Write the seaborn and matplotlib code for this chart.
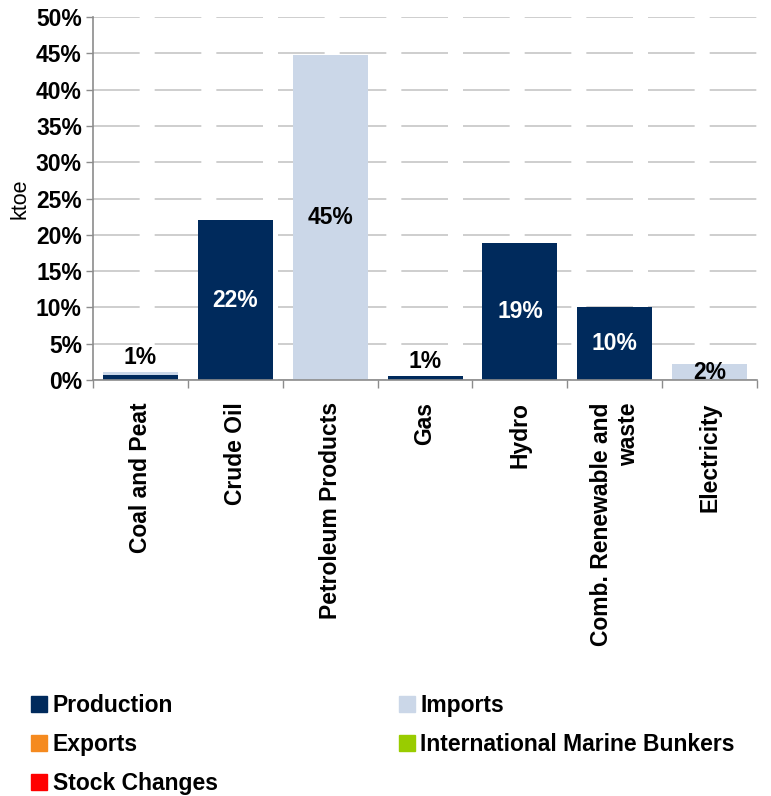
import matplotlib
matplotlib.use("Agg")
import matplotlib.pyplot as plt
import seaborn as sns
import pandas as pd
import numpy as np
from matplotlib.lines import Line2D
from matplotlib.ticker import FuncFormatter, FixedLocator

categories = ["Coal and Peat", "Crude Oil", "Petroleum Products", "Gas", "Hydro",
              "Comb. Renewable and\nwaste", "Electricity"]
production = [0.7, 22.0, 0.0, 0.55, 18.9, 10.1, 0.0]
imports = [0.45, 0.0, 44.8, 0.0, 0.0, 0.0, 2.2]
exports = [0, 0, 0, 0, 0, 0, 0]
marine_bunkers = [0, 0, 0, 0, 0, 0, 0]
stock_changes = [0, 0, 0, 0, 0, 0, 0]
value_labels = ["1%", "22%", "45%", "1%", "19%", "10%", "2%"]

C_PROD = "#002a5c"
C_IMP = "#cbd7e8"
C_EXP = "#f58a1f"
C_IMB = "#99cc00"
C_STK = "#ff0000"

sns.set_theme(style="white")
plt.rcParams["font.family"] = ["Liberation Sans", "DejaVu Sans"]
plt.rcParams["text.color"] = "black"
plt.rcParams["xtick.color"] = "black"
plt.rcParams["ytick.color"] = "black"
plt.rcParams["axes.labelcolor"] = "black"

df = pd.DataFrame({"cat": categories, "prod": production, "imp": imports})

fig = plt.figure(figsize=(7.71, 7.96), dpi=100)
ax = fig.add_axes([0.1206, 0.5226, 0.8614, 0.456])

sns.barplot(data=df, x="cat", y="prod", order=categories, color=C_PROD,
            saturation=1, width=0.79, ax=ax, linewidth=0)
sns.barplot(data=df, x="cat", y="imp", order=categories, color=C_IMP,
            saturation=1, width=0.79, ax=ax, linewidth=0, bottom=np.array(production))

ax.set_ylim(0, 50)
ax.set_xlim(-0.5, len(categories) - 0.5)
ax.yaxis.set_major_locator(FixedLocator(np.arange(0, 51, 5)))
ax.yaxis.set_major_formatter(FuncFormatter(lambda v, p: f"{v:.0f}%"))
ax.grid(axis="y", color="#c6c6c6", linewidth=1.2, linestyle=(0, (28, 9)))
ax.set_axisbelow(True)

for s in ["top", "right"]:
    ax.spines[s].set_visible(False)
for s in ["left", "bottom"]:
    ax.spines[s].set_color("#8c8c8c")
    ax.spines[s].set_linewidth(1.2)

ax.tick_params(axis="y", which="major", left=True, length=5, width=1, color="#8c8c8c",
               labelsize=16.5, pad=3, labelcolor="black")
ax.tick_params(axis="x", which="major", bottom=False, labelsize=16.5, pad=10,
               labelcolor="black")
ax.set_xticks(range(len(categories)))
ax.set_xticklabels(categories, rotation=90, fontweight="bold", va="top", ha="center",
                   linespacing=1.25, multialignment="right")
ax.set_xticks(np.arange(-0.5, len(categories), 1.0), minor=True)
ax.tick_params(axis="x", which="minor", bottom=True, length=6, width=1, color="#8c8c8c",
               direction="out")
for lab in ax.get_yticklabels():
    lab.set_fontweight("bold")
ax.set_xlabel("")
ax.set_ylabel("ktoe", fontsize=15.5, labelpad=4, color="black")

for i, (p, im, lab) in enumerate(zip(production, imports, value_labels)):
    total = p + im
    col = "white" if p >= im else "black"
    if total >= 5:
        ax.text(i, total / 2, lab, ha="center", va="center", color=col,
                fontsize=16.5, fontweight="bold")
    elif p >= im:
        ax.text(i, total + 0.35, lab, ha="center", va="bottom", color="black",
                fontsize=16.5, fontweight="bold")
    else:
        ax.text(i, total / 2, lab, ha="center", va="center", color="black",
                fontsize=16.5, fontweight="bold")

def sq(c):
    return Line2D([0], [0], marker="s", linestyle="none", markersize=11,
                  markerfacecolor=c, markeredgecolor=c)

handles = [sq(C_PROD), sq(C_EXP), sq(C_STK), sq(C_IMP), sq(C_IMB)]
labels = ["Production", "Exports", "Stock Changes", "Imports", "International Marine Bunkers"]
fig.legend(handles, labels, ncol=2, loc="upper left", bbox_to_anchor=(0.025, 0.14),
           frameon=False, prop={"weight": "bold", "size": 16.5}, handletextpad=0.15,
           handlelength=0.9, columnspacing=7.8, labelspacing=0.7, borderaxespad=0)

fig.savefig("out.png", dpi=100)
